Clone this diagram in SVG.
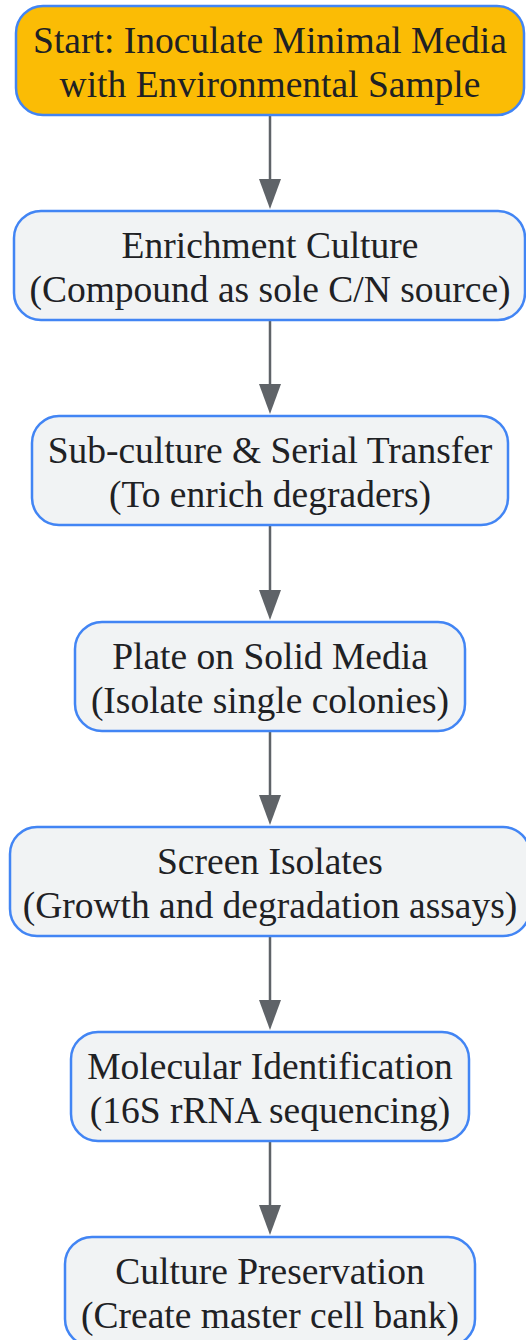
<svg xmlns="http://www.w3.org/2000/svg" width="526" height="1340" viewBox="0 0 526 1340">
<style>
.n rect{fill:#F1F3F4;stroke:#4285F4;stroke-width:2.5}
#n1 rect{fill:#FBBC05}
text{font-family:"Liberation Serif","Times New Roman",serif;font-size:37.5px;fill:#202124;text-anchor:middle}
.c line{stroke:#5F6368;stroke-width:2.5}
.c path{fill:#5F6368}
</style>
<g class="c" id="connectors">
<line x1="270" y1="115" x2="270" y2="182"/><path d="M259,179 L281,179 L270,209 Z"/>
<line x1="270" y1="320" x2="270" y2="387"/><path d="M259,384 L281,384 L270,414 Z"/>
<line x1="270" y1="525" x2="270" y2="593"/><path d="M259,590 L281,590 L270,620 Z"/>
<line x1="270" y1="731" x2="270" y2="798"/><path d="M259,795 L281,795 L270,825 Z"/>
<line x1="270" y1="936" x2="270" y2="1003"/><path d="M259,1000 L281,1000 L270,1030 Z"/>
<line x1="270" y1="1141" x2="270" y2="1208"/><path d="M259,1205 L281,1205 L270,1235 Z"/>
</g>
<g class="n" id="n1"><rect x="16" y="6" width="508" height="109" rx="27"/><text x="270" y="53">Start: Inoculate Minimal Media</text><text x="270" y="97">with Environmental Sample</text></g>
<g class="n" id="n2"><rect x="14" y="211" width="511" height="109" rx="27"/><text x="270" y="258">Enrichment Culture</text><text x="270" y="302">(Compound as sole C/N source)</text></g>
<g class="n" id="n3"><rect x="32" y="416" width="476" height="109" rx="27"/><text x="270" y="463">Sub-culture &amp; Serial Transfer</text><text x="270" y="507">(To enrich degraders)</text></g>
<g class="n" id="n4"><rect x="75" y="622" width="390" height="109" rx="27"/><text x="270" y="669">Plate on Solid Media</text><text x="270" y="713">(Isolate single colonies)</text></g>
<g class="n" id="n5"><rect x="10" y="827" width="520" height="109" rx="27"/><text x="270" y="874">Screen Isolates</text><text x="270" y="918">(Growth and degradation assays)</text></g>
<g class="n" id="n6"><rect x="71" y="1032" width="398" height="109" rx="27"/><text x="270" y="1079">Molecular Identification</text><text x="270" y="1123">(16S rRNA sequencing)</text></g>
<g class="n" id="n7"><rect x="65" y="1237" width="410" height="109" rx="27"/><text x="270" y="1284">Culture Preservation</text><text x="270" y="1328">(Create master cell bank)</text></g>
</svg>
